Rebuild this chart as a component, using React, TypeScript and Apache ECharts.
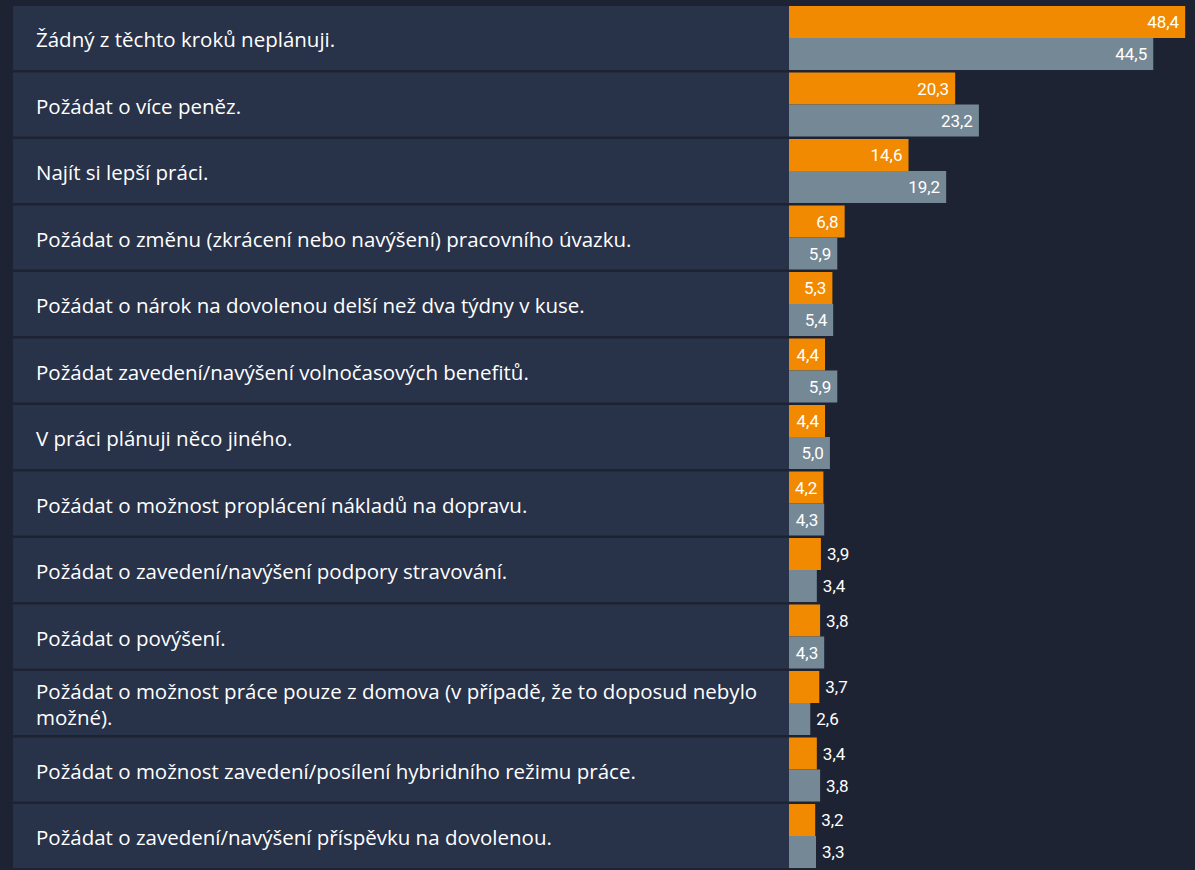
import React, { useEffect, useRef } from "react";
import * as echarts from "echarts";

const categories = [
  "Žádný z těchto kroků neplánuji.",
  "Požádat o více peněz.",
  "Najít si lepší práci.",
  "Požádat o změnu (zkrácení nebo navýšení) pracovního úvazku.",
  "Požádat o nárok na dovolenou delší než dva týdny v kuse.",
  "Požádat zavedení/navýšení volnočasových benefitů.",
  "V práci plánuji něco jiného.",
  "Požádat o možnost proplácení nákladů na dopravu.",
  "Požádat o zavedení/navýšení podpory stravování.",
  "Požádat o povýšení.",
  "Požádat o možnost práce pouze z domova (v případě, že to doposud nebylo\nmožné).",
  "Požádat o možnost zavedení/posílení hybridního režimu práce.",
  "Požádat o zavedení/navýšení příspěvku na dovolenou.",
];

const seriesA = [48.4, 20.3, 14.6, 6.8, 5.3, 4.4, 4.4, 4.2, 3.9, 3.8, 3.7, 3.4, 3.2];
const seriesB = [44.5, 23.2, 19.2, 5.9, 5.4, 5.9, 5.0, 4.3, 3.4, 4.3, 2.6, 3.8, 3.3];

const BG = "#1e2333";
const PANEL = "#283249";
const ORANGE = "#f18a00";
const GRAY = "#758896";

export default function App() {
  const ref = useRef<HTMLDivElement>(null);

  useEffect(() => {
    if (!ref.current) return;
    const chart = echarts.init(ref.current, undefined, { renderer: "svg" });

    const fmt = (p: any) => Number(p.value).toFixed(1).replace(".", ",");
    const mkData = (arr: number[]) =>
      arr.map((v) => ({
        value: v,
        label: v >= 4 ? { position: "insideRight", distance: 6 } : { position: "right", distance: 6 },
      }));

    const GRID_LEFT = 789;

    chart.setOption({
      animation: false,
      backgroundColor: BG,
      grid: { left: GRID_LEFT, right: 0, top: 4.75, bottom: 870 - 4.75 - 13 * 66.5, containLabel: false },
      xAxis: {
        type: "value",
        min: 0,
        max: 49.6,
        show: false,
      },
      yAxis: {
        type: "category",
        data: categories,
        inverse: true,
        axisLine: { show: false },
        axisTick: { show: false },
        splitLine: { show: false },
        axisLabel: { show: false },
      },
      series: [
        {
          type: "custom",
          silent: true,
          z: 0,
          data: categories.map((_, i) => [0, i]),
          encode: { x: 0, y: 1 },
          renderItem: (params: any, api: any) => {
            const idx = api.value(1);
            const y = api.coord([0, idx])[1];
            const h = api.size([0, 1])[1];
            return {
              type: "group",
              children: [
                {
                  type: "rect",
                  shape: { x: 13, y: y - h / 2 + 1.25, width: GRID_LEFT - 13, height: h - 2.5 },
                  style: { fill: PANEL },
                },
                {
                  type: "text",
                  x: 36,
                  y: y + 1,
                  style: {
                    text: categories[idx],
                    fill: "#ffffff",
                    fontFamily: "Open Sans",
                    fontSize: 20.5,
                    lineHeight: 26,
                    align: "left",
                    verticalAlign: "middle",
                  },
                },
              ],
            };
          },
        },
        {
          name: "A",
          type: "bar",
          data: mkData(seriesA),
          barWidth: 32,
          barGap: "0%",
          itemStyle: { color: ORANGE },
          label: {
            show: true,
            color: "#ffffff",
            fontFamily: "Roboto",
            fontSize: 17,
            formatter: fmt,
          },
        },
        {
          name: "B",
          type: "bar",
          data: mkData(seriesB),
          barWidth: 32,
          barGap: "0%",
          itemStyle: { color: GRAY },
          label: {
            show: true,
            color: "#ffffff",
            fontFamily: "Roboto",
            fontSize: 17,
            formatter: fmt,
          },
        },
      ],
    });

    return () => chart.dispose();
  }, []);

  return (
    <div
      ref={ref}
      style={{ position: "absolute", left: 0, top: 0, width: 1195, height: 870 }}
    />
  );
}
